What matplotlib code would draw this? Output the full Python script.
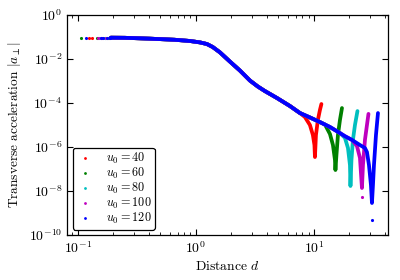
import matplotlib
matplotlib.use("Agg")
import matplotlib.pyplot as plt
from matplotlib.lines import Line2D
from matplotlib.ticker import NullLocator, LogLocator

# Fonte estilo LaTeX (Computer Modern)
plt.rcParams['font.family'] = 'serif'
plt.rcParams['font.serif'] = ['cmr10', 'DejaVu Serif']
plt.rcParams['mathtext.fontset'] = 'cm'
plt.rcParams['axes.formatter.use_mathtext'] = True

# Curva comum a todas as series (distancia d, aceleracao |a|)
d_main = [0.19, 0.25, 0.41, 0.66, 0.89, 1.08, 1.24, 1.39, 1.60, 1.94, 2.36, 2.87,
          3.35, 3.84, 4.86, 6.26, 7.61, 9.25, 11.2, 13.67, 16.61, 18.31, 20.99, 24.54]
a_main = [0.093, 0.092, 0.084, 0.075, 0.066, 0.057, 0.048, 0.035, 0.020, 0.0077, 0.0030, 1.05e-3,
          5.6e-4, 3.5e-4, 1.69e-4, 7.3e-5, 3.5e-5, 2.2e-5, 1.37e-5, 8.1e-6, 4.3e-6, 3.1e-6, 2.1e-6, 1.23e-6]

labels = ['$u_0 = 40$', '$u_0 = 60$', '$u_0 = 80$', '$u_0 = 100$', '$u_0 = 120$']
cores = ['#ff0000', '#008000', '#00bfbf', '#bf00bf', '#0000ff']

# Ultimo ponto da curva comum usado por cada serie
d_split = [7.61, 11.2, 16.61, 20.99, 24.54]

# Parte final de cada serie (mergulho perto de a = 0)
d_tail = [
    [8.39, 9.25, 9.80, 10.1, 10.2, 10.4, 10.8, 11.24, 11.57],
    [12.40, 13.67, 14.49, 15.07, 15.21, 15.51, 15.97, 16.61, 17.28],
    [18.31, 19.42, 20.19, 20.39, 20.79, 21.40, 22.26, 23.37],
    [23.14, 24.54, 25.51, 26.02, 27.05, 28.13, 28.97],
    [27.05, 28.13, 29.25, 30.41, 31.01, 31.62, 32.25, 33.53, 34.87],
]
a_tail = [
    [2.3e-5, 1.0e-5, 3.5e-6, 1.23e-6, 3.5e-7, 3.5e-6, 1.69e-5, 4.8e-5, 9.0e-5],
    [1.05e-5, 3.9e-6, 1.23e-6, 2.6e-7, 9.0e-8, 4.3e-7, 3.5e-6, 1.69e-5, 5.9e-5],
    [2.6e-6, 9.0e-7, 1.52e-7, 1.69e-8, 2.6e-7, 2.1e-6, 1.0e-5, 4.3e-5],
    [1.11e-6, 3.2e-7, 1.37e-8, 1.52e-7, 2.1e-6, 1.0e-5, 3.2e-5],
    [9.0e-7, 5.9e-7, 1.52e-7, 1.87e-8, 2.85e-9, 1.87e-8, 1.52e-7, 3.5e-6, 3.5e-5],
]

# Pontos isolados no inicio (d pequeno) de cada serie
d_start = [
    [0.124, 0.131, 0.160, 0.185],
    [0.107, 0.144, 0.170, 0.180],
    [0.151, 0.169, 0.176],
    [0.148, 0.157, 0.172],
    [0.117, 0.157, 0.163, 0.178, 0.186],
]
a_start = [
    [0.093, 0.093, 0.093, 0.093],
    [0.093, 0.093, 0.093, 0.093],
    [0.093, 0.093, 0.093],
    [0.093, 0.093, 0.093],
    [0.093, 0.093, 0.093, 0.093, 0.093],
]

# Pontos isolados no fundo do mergulho
d_fundo = [[], [], [], [25.51], [31.01]]
a_fundo = [[], [], [], [5.3e-9], [4.8e-10]]

fig = plt.figure(figsize=(4, 2.8), dpi=100)
ax = fig.add_axes([0.1675, 0.1607, 0.8025, 0.7857])

for i in range(len(labels)):
    d = [x for x in d_main if x <= d_split[i]] + d_tail[i]
    a = [y for x, y in zip(d_main, a_main) if x <= d_split[i]] + a_tail[i]
    ax.plot(d, a, '-', color=cores[i], lw=2.7, solid_joinstyle='round', solid_capstyle='round')
    ax.plot(d_start[i], a_start[i], '.', color=cores[i], ms=4.5, mew=0)
    ax.plot(d_fundo[i], a_fundo[i], '.', color=cores[i], ms=4.5, mew=0)

ax.set_xscale('log')
ax.set_yscale('log')
ax.set_xlim(0.081, 42.4)
ax.set_ylim(1e-10, 1)
ax.yaxis.set_major_locator(LogLocator(base=10, numticks=6))
ax.yaxis.set_minor_locator(NullLocator())

ax.tick_params(which='both', direction='in', top=True, right=True, labelsize=10)
ax.tick_params(which='major', length=4, width=0.8)
ax.tick_params(which='minor', length=2, width=0.6)
for s in ax.spines.values():
    s.set_linewidth(0.9)

ax.set_xlabel('Distance $d$', fontsize=9.8, labelpad=3)
ax.set_ylabel(r'Transverse acceleration $|a_\perp|$', fontsize=9.6, labelpad=4)

# Legenda com marcadores pequenos
handles = [Line2D([], [], ls='', marker='.', ms=4, mew=0, color=c) for c in cores]
leg = ax.legend(handles, labels, loc='lower left', fontsize=8.8, fancybox=True, framealpha=1,
                edgecolor='black', borderaxespad=0.45, labelspacing=0.0, handlelength=1.5,
                handletextpad=1.0, borderpad=0.25)
leg.get_frame().set_linewidth(0.9)

fig.savefig('out.png', dpi=100)
